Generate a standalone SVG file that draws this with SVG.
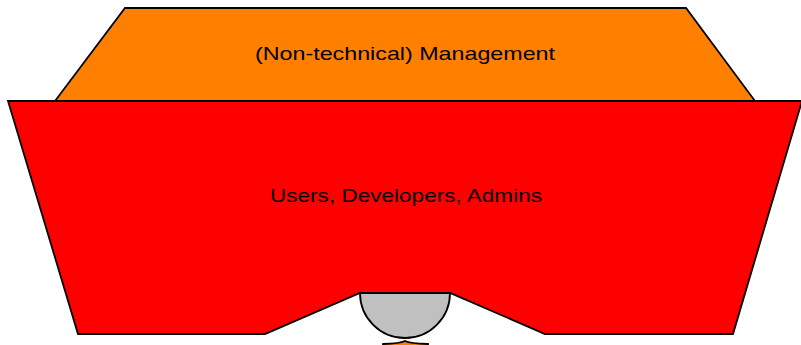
<svg xmlns="http://www.w3.org/2000/svg" width="801" height="345" viewBox="0 0 801 345">
<style>
.s{stroke:#000;stroke-width:1.8;stroke-linejoin:miter}
.t{font-family:"Liberation Sans","DejaVu Sans",sans-serif;font-size:19px;fill:#000;text-anchor:middle}
</style>
<rect width="801" height="345" fill="#fff"/>
<g id="management">
<polygon class="s" fill="#ff8000" points="125,8 686,8 755,101 55,101"/>
<text class="t" x="405" y="60" textLength="300" lengthAdjust="spacingAndGlyphs">(Non-technical) Management</text>
</g>
<g id="users">
<polygon class="s" fill="#ff0000" points="8,101 802,101 733,334 545,334 450,293 360,293 265,334 78,334"/>
<text class="t" x="406" y="202" textLength="272" lengthAdjust="spacingAndGlyphs">Users, Developers, Admins</text>
</g>
<g id="bowl">
<path class="s" fill="#c0c0c0" d="M360,293 L450,293 A45,45 0 0 1 360,293 Z"/>
</g>
<g id="base">
<path class="s" fill="#ff8000" d="M383,344 Q400,343.5 405,341 Q410,343.5 428,344 L428,348 L383,348 Z"/>
</g>
<g id="connectors"></g>
</svg>
